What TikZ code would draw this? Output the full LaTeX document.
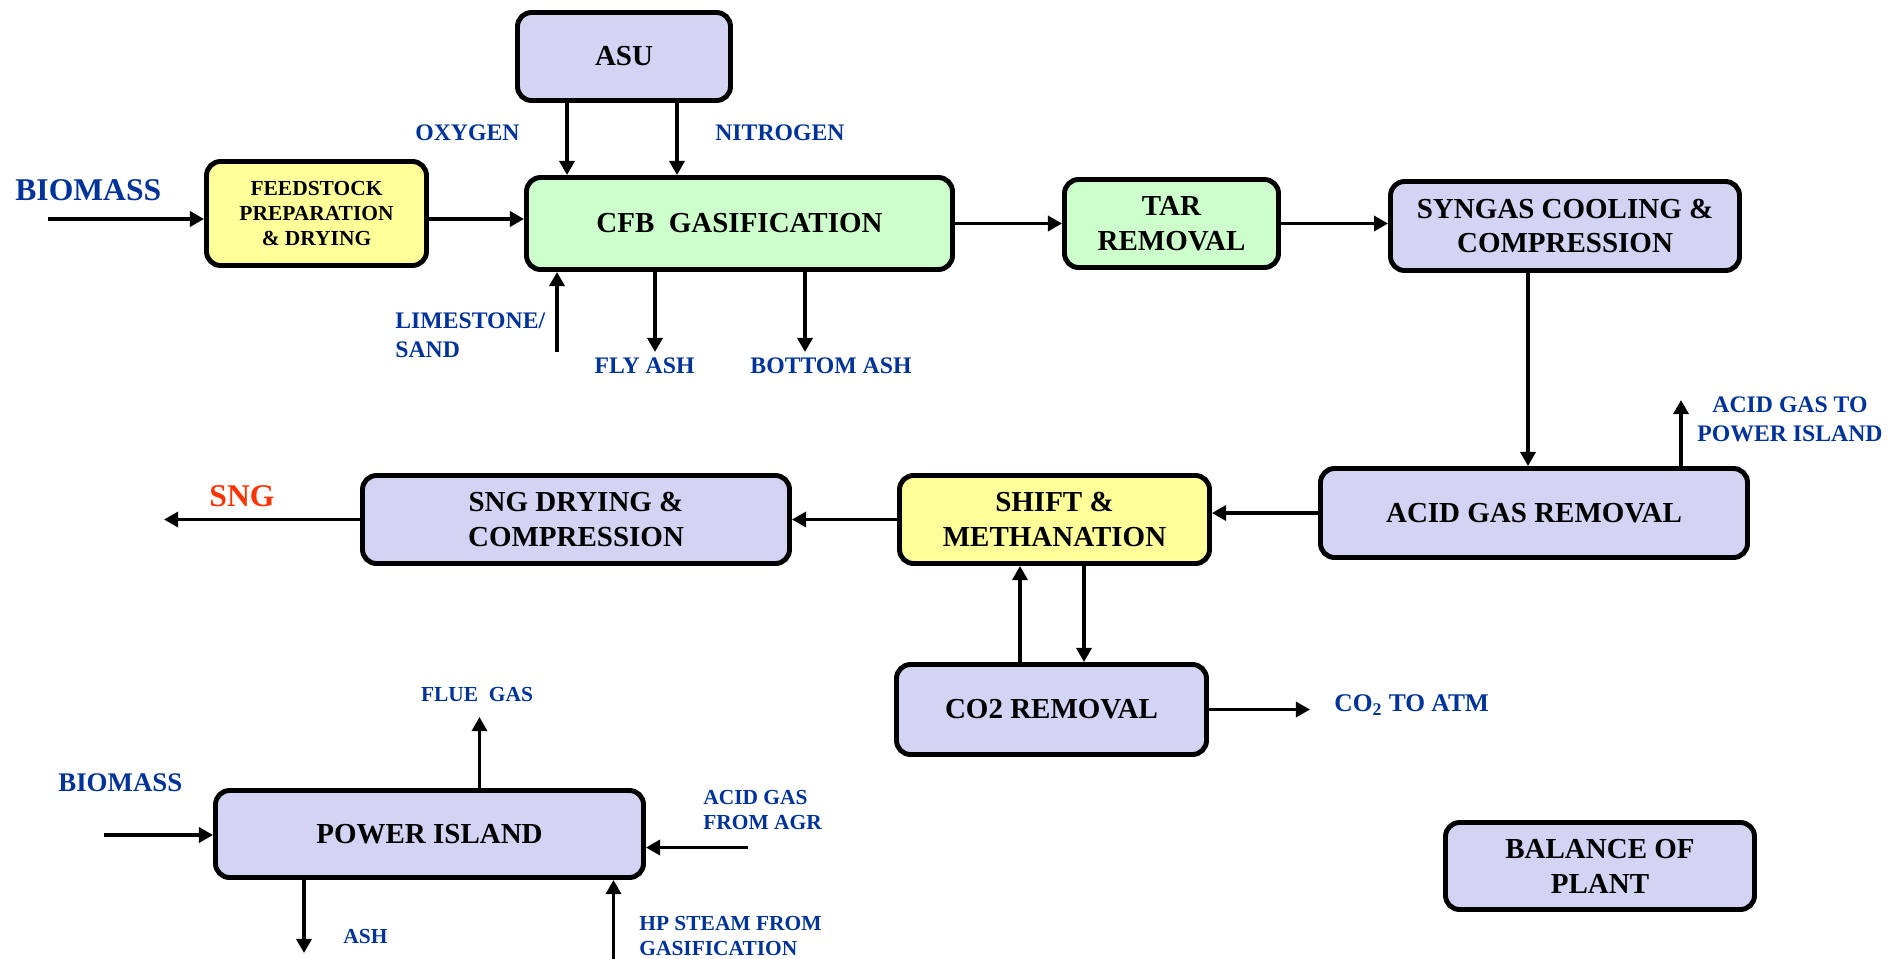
\documentclass[tikz,border=0pt]{standalone}
\usepackage{fontspec}
\setmainfont{Liberation Serif}
\usetikzlibrary{arrows.meta,positioning}
\definecolor{lilac}{RGB}{211,211,243}
\definecolor{mint}{RGB}{204,255,204}
\definecolor{lemon}{RGB}{255,255,153}
\definecolor{flowblue}{RGB}{0,51,153}
\definecolor{sngred}{RGB}{255,51,0}

\begin{document}
\begin{tikzpicture}[
font=\bfseries,
unit/.style={draw=black, fill=#1, rounded corners=8pt, line width=2.8pt, align=center, inner sep=0pt, font=\bfseries\fontsize{16.5}{19.9}\selectfont},
stream/.style={text=flowblue, inner sep=0pt, font=\bfseries\fontsize{13.5}{16.5}\selectfont},
smallstream/.style={stream, font=\bfseries\fontsize{12.2}{14.2}\selectfont},
bigstream/.style={stream, font=\bfseries\fontsize{18}{21}\selectfont},
arrow/.style={-{Triangle[length=8pt,width=8.5pt]}, line width=2pt}
]
\useasboundingbox (0,0) rectangle (38.02,-19.16);

\node[unit=lilac, minimum width=4.26cm, minimum height=1.76cm] (asu) at (12.48,-1.13) {ASU};
\node[unit=lemon, minimum width=4.4cm, minimum height=2.08cm, font=\bfseries\fontsize{12.2}{14.2}\selectfont] (feed) at (6.33,-4.27) {FEEDSTOCK\\PREPARATION\\\& DRYING};
\node[unit=mint, minimum width=8.52cm, minimum height=1.84cm] (cfb) at (14.79,-4.47) {CFB\ \ GASIFICATION};
\node[unit=mint, minimum width=4.28cm, minimum height=1.76cm] (tar) at (23.43,-4.47) {TAR\\REMOVAL};
\node[unit=lilac, minimum width=6.98cm, minimum height=1.78cm] (syngas) at (31.3,-4.52) {SYNGAS COOLING \&\\COMPRESSION};
\node[unit=lilac, minimum width=8.54cm, minimum height=1.78cm] (agr) at (30.68,-10.26) {ACID GAS REMOVAL};
\node[unit=lemon, minimum width=6.2cm, minimum height=1.76cm] (shift) at (21.09,-10.39) {SHIFT \&\\METHANATION};
\node[unit=lilac, minimum width=8.54cm, minimum height=1.76cm] (sngdry) at (11.52,-10.39) {SNG DRYING \&\\COMPRESSION};
\node[unit=lilac, minimum width=6.2cm, minimum height=1.8cm] (co2) at (21.03,-14.19) {CO2 REMOVAL};
\node[unit=lilac, minimum width=8.56cm, minimum height=1.74cm] (power) at (8.59,-16.68) {POWER ISLAND};
\node[unit=lilac, minimum width=6.18cm, minimum height=1.74cm] (bop) at (32,-17.32) {BALANCE OF\\PLANT};

\node[bigstream, anchor=west] (biotop) at (0.3,-3.8) {BIOMASS};
\node[stream, anchor=west] (oxytxt) at (8.3,-2.66) {OXYGEN};
\node[stream, anchor=west] (nittxt) at (14.3,-2.66) {NITROGEN};
\node[stream, anchor=west, align=left] (limetxt) at (7.9,-6.71) {LIMESTONE/\\SAND};
\node[stream] (flytxt) at (12.89,-7.32) {FLY ASH};
\node[stream] (bottomtxt) at (16.62,-7.32) {BOTTOM ASH};
\node[stream, align=center] (acidtotxt) at (35.8,-8.39) {ACID GAS TO\\POWER ISLAND};
\node[bigstream, text=sngred] (sngtxt) at (4.84,-9.92) {SNG};
\node[stream, anchor=west, font=\bfseries\fontsize{14.5}{17}\selectfont] (atmtxt) at (26.68,-14.1) {CO\textsubscript{2} TO ATM};
\node[smallstream] (fluetxt) at (9.54,-13.88) {FLUE\ \ GAS};
\node[stream, anchor=west, font=\bfseries\fontsize{15.3}{18}\selectfont] (biobot) at (1.16,-15.65) {BIOMASS};
\node[smallstream, anchor=west, align=left] (acidfromtxt) at (14.06,-16.2) {ACID GAS\\FROM AGR};
\node[smallstream] (ashtxt) at (7.31,-18.72) {ASH};
\node[smallstream, anchor=west, align=left] (hptxt) at (12.78,-18.72) {HP STEAM FROM\\GASIFICATION};

\coordinate (bioin) at (0.96,-4.38);
\coordinate (oxy) at (11.34,0);
\coordinate (nit) at (13.54,0);
\coordinate (limein) at (11.14,-7.04);
\coordinate (flyout) at (13.1,-7.04);
\coordinate (bottomout) at (16.1,-7.04);
\coordinate (synx) at (30.56,0);
\coordinate (acidout) at (33.62,-8.0);
\coordinate (sngout) at (3.28,0);
\coordinate (co2up) at (20.4,0);
\coordinate (co2down) at (21.68,0);
\coordinate (atmout) at (26.2,0);
\coordinate (flueout) at (9.59,-14.34);
\coordinate (biopower) at (2.08,-16.7);
\coordinate (acidin) at (14.96,-16.95);
\coordinate (ashout) at (6.08,-19.06);
\coordinate (hpin) at (12.27,-19.3);

\draw[arrow] (bioin) -- (bioin -| feed.west);
\draw[arrow] (feed.east |- bioin) -- (cfb.west |- bioin);
\draw[arrow] (asu.south -| oxy) -- (cfb.north -| oxy);
\draw[arrow] (asu.south -| nit) -- (cfb.north -| nit);
\draw[arrow] (limein) -- (limein |- cfb.south);
\draw[arrow] (cfb.south -| flyout) -- (flyout);
\draw[arrow] (cfb.south -| bottomout) -- (bottomout);
\draw[arrow] (cfb.east) -- (tar.west);
\draw[arrow] (tar.east) -- (tar.east -| syngas.west);
\draw[arrow] (syngas.south -| synx) -- (agr.north -| synx);
\draw[arrow] (agr.north -| acidout) -- (acidout);
\draw[arrow] (agr.west) -- (agr.west -| shift.east);
\draw[arrow] (shift.west) -- (shift.west -| sngdry.east);
\draw[arrow] (sngdry.west) -- (sngdry.west -| sngout);
\draw[arrow] (co2.north -| co2up) -- (shift.south -| co2up);
\draw[arrow] (shift.south -| co2down) -- (co2.north -| co2down);
\draw[arrow] (co2.east) -- (co2.east -| atmout);
\draw[arrow] (power.north -| flueout) -- (flueout);
\draw[arrow] (biopower) -- (biopower -| power.west);
\draw[arrow] (acidin) -- (acidin -| power.east);
\draw[arrow] (power.south -| ashout) -- (ashout);
\draw[arrow] (hpin) -- (hpin |- power.south);
\end{tikzpicture}
\end{document}
